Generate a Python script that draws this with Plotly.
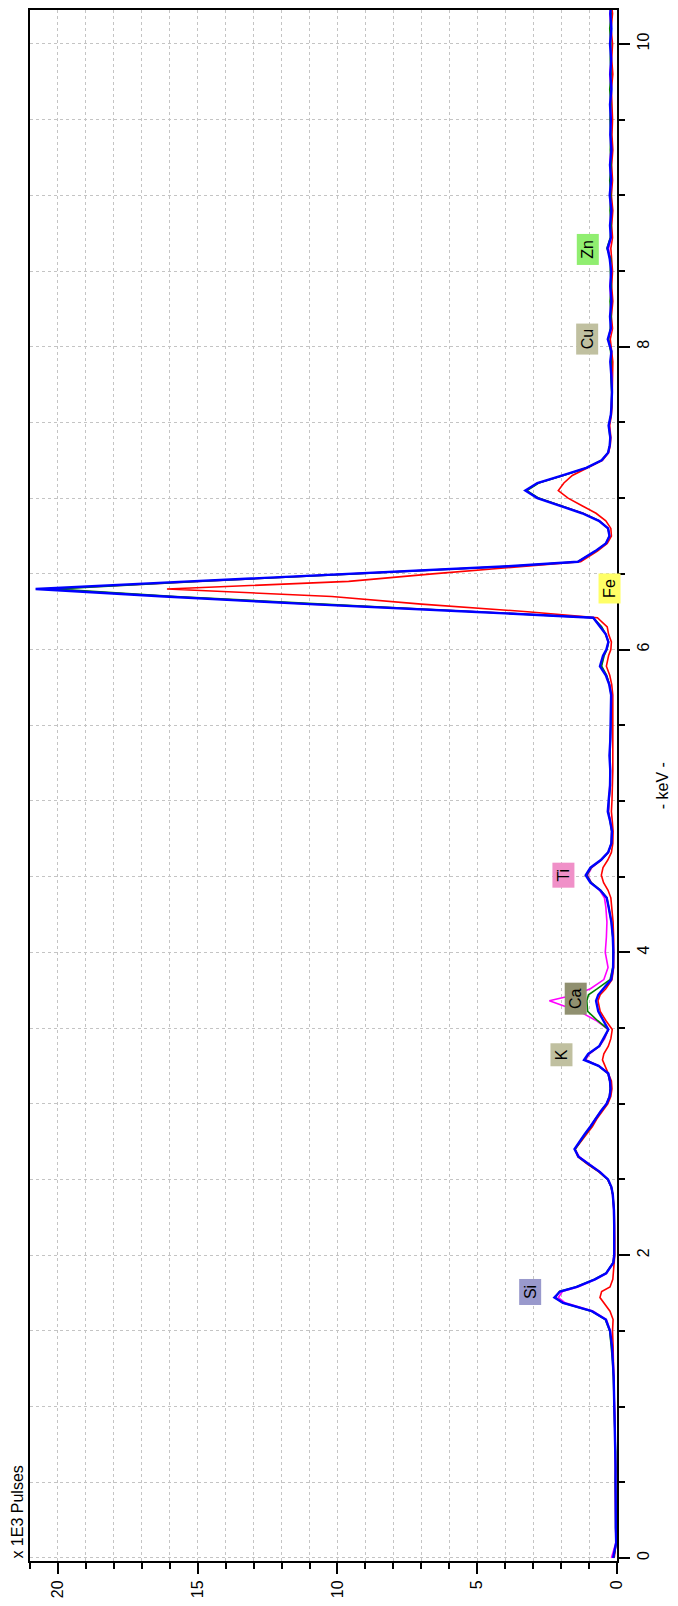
import plotly.graph_objects as go

# Energy channels (keV)
kev = [
    0.00, 0.05, 0.10, 0.20, 0.30, 0.40, 0.50, 0.60, 0.70, 0.80,
    0.90, 1.00, 1.10, 1.20, 1.30, 1.40, 1.50, 1.575, 1.63, 1.685,
    1.72, 1.76, 1.79, 1.84, 1.88, 1.95, 2.00, 2.10, 2.20, 2.30,
    2.40, 2.45, 2.50, 2.55, 2.60, 2.65, 2.70, 2.75, 2.80, 2.85,
    2.90, 2.95, 3.00, 3.05, 3.10, 3.15, 3.20, 3.25, 3.29, 3.33,
    3.38, 3.43, 3.49, 3.55, 3.61, 3.68, 3.72, 3.76, 3.82, 3.90,
    4.00, 4.10, 4.20, 4.30, 4.36, 4.41, 4.46, 4.51, 4.56, 4.61,
    4.66, 4.72, 4.80, 4.87, 4.93, 5.00, 5.10, 5.20, 5.30, 5.40,
    5.50, 5.60, 5.70, 5.77, 5.83, 5.89, 5.96, 6.00, 6.05, 6.10,
    6.15, 6.21, 6.25, 6.30, 6.35, 6.40, 6.45, 6.50, 6.55, 6.58,
    6.65, 6.70, 6.75, 6.80, 6.85, 6.90, 6.95, 7.00, 7.05, 7.10,
    7.15, 7.20, 7.25, 7.30, 7.35, 7.40, 7.48, 7.55, 7.60, 7.70,
    7.80, 7.90, 7.97, 8.05, 8.12, 8.20, 8.30, 8.40, 8.50, 8.58,
    8.65, 8.72, 8.80, 8.90, 9.00, 9.10, 9.20, 9.30, 9.40, 9.50,
    9.60, 9.70, 9.80, 9.90, 10.00, 10.10, 10.20, 10.25,
]

# Counts per channel, x 1E3 pulses
pulses_blue = [
    0.14, 0.08, 0.03, 0.04, 0.05, 0.04, 0.05, 0.05, 0.06, 0.07,
    0.08, 0.09, 0.10, 0.12, 0.15, 0.18, 0.25, 0.40, 0.90, 1.93,
    2.24, 2.04, 1.44, 0.79, 0.39, 0.13, 0.10, 0.09, 0.10, 0.11,
    0.15, 0.20, 0.32, 0.62, 1.00, 1.38, 1.52, 1.35, 1.15, 0.95,
    0.78, 0.58, 0.37, 0.26, 0.23, 0.25, 0.31, 0.66, 1.18, 1.03,
    0.64, 0.48, 0.31, 0.49, 0.67, 0.75, 0.67, 0.49, 0.21, 0.14,
    0.13, 0.15, 0.20, 0.30, 0.37, 0.60, 0.95, 1.12, 0.95, 0.58,
    0.32, 0.20, 0.18, 0.25, 0.33, 0.30, 0.25, 0.24, 0.27, 0.24,
    0.23, 0.22, 0.21, 0.28, 0.40, 0.61, 0.50, 0.38, 0.31, 0.40,
    0.60, 0.85, 5.20, 11.00, 16.20, 20.80, 15.30, 9.60, 3.90, 1.40,
    0.78, 0.40, 0.27, 0.32, 0.65, 1.25, 2.05, 2.85, 3.28, 2.85,
    1.95, 1.10, 0.55, 0.32, 0.26, 0.24, 0.30, 0.22, 0.20, 0.18,
    0.20, 0.24, 0.20, 0.33, 0.22, 0.25, 0.20, 0.24, 0.21, 0.26,
    0.34, 0.22, 0.25, 0.20, 0.26, 0.21, 0.25, 0.20, 0.24, 0.22,
    0.25, 0.20, 0.24, 0.21, 0.25, 0.20, 0.24, 0.22,
]

pulses_green = [
    0.12, 0.07, 0.03, 0.05, 0.04, 0.05, 0.06, 0.05, 0.05, 0.07,
    0.08, 0.10, 0.11, 0.13, 0.16, 0.20, 0.26, 0.42, 0.92, 1.95,
    2.20, 2.06, 1.48, 0.82, 0.40, 0.14, 0.10, 0.10, 0.10, 0.11,
    0.15, 0.21, 0.33, 0.63, 1.02, 1.38, 1.50, 1.33, 1.13, 0.93,
    0.77, 0.57, 0.37, 0.27, 0.24, 0.26, 0.32, 0.66, 1.15, 1.01,
    0.63, 0.47, 0.31, 0.70, 1.05, 1.08, 1.02, 0.70, 0.25, 0.15,
    0.14, 0.15, 0.20, 0.30, 0.36, 0.58, 0.92, 1.08, 0.92, 0.56,
    0.31, 0.20, 0.19, 0.25, 0.31, 0.29, 0.24, 0.25, 0.25, 0.24,
    0.22, 0.21, 0.21, 0.27, 0.37, 0.55, 0.46, 0.36, 0.30, 0.40,
    0.55, 0.85, 5.10, 10.80, 15.80, 20.05, 15.00, 9.40, 3.80, 1.40,
    0.76, 0.40, 0.27, 0.32, 0.63, 1.22, 2.00, 2.80, 3.22, 2.80,
    1.92, 1.08, 0.55, 0.32, 0.26, 0.25, 0.29, 0.22, 0.20, 0.19,
    0.22, 0.20, 0.23, 0.30, 0.24, 0.21, 0.25, 0.20, 0.24, 0.22,
    0.36, 0.24, 0.21, 0.25, 0.22, 0.26, 0.21, 0.24, 0.22, 0.25,
    0.22, 0.26, 0.21, 0.24, 0.22, 0.26, 0.21, 0.25,
]

pulses_magenta = [
    0.20, 0.12, 0.04, 0.05, 0.05, 0.05, 0.05, 0.06, 0.06, 0.06,
    0.07, 0.09, 0.10, 0.12, 0.14, 0.18, 0.24, 0.38, 0.85, 1.85,
    2.10, 1.95, 1.40, 0.76, 0.37, 0.14, 0.11, 0.10, 0.11, 0.12,
    0.16, 0.21, 0.32, 0.60, 0.98, 1.35, 1.50, 1.34, 1.14, 0.94,
    0.77, 0.58, 0.38, 0.27, 0.24, 0.26, 0.32, 0.64, 1.12, 0.98,
    0.62, 0.44, 0.31, 0.75, 1.35, 2.42, 1.50, 0.95, 0.47, 0.32,
    0.42, 0.38, 0.36, 0.40, 0.45, 0.62, 0.92, 1.05, 0.90, 0.55,
    0.30, 0.21, 0.19, 0.24, 0.30, 0.28, 0.25, 0.24, 0.26, 0.23,
    0.22, 0.21, 0.20, 0.27, 0.38, 0.57, 0.47, 0.37, 0.31, 0.41,
    0.57, 0.85, 5.00, 10.90, 16.00, 20.35, 15.10, 9.50, 3.80, 1.40,
    0.77, 0.40, 0.27, 0.31, 0.62, 1.20, 2.00, 2.82, 3.25, 2.82,
    1.93, 1.08, 0.54, 0.31, 0.25, 0.24, 0.28, 0.22, 0.21, 0.18,
    0.19, 0.23, 0.21, 0.31, 0.20, 0.24, 0.22, 0.25, 0.20, 0.24,
    0.30, 0.21, 0.24, 0.22, 0.25, 0.20, 0.26, 0.22, 0.23, 0.21,
    0.24, 0.21, 0.26, 0.20, 0.24, 0.22, 0.25, 0.21,
]

pulses_red = [
    0.10, 0.06, 0.03, 0.04, 0.05, 0.04, 0.06, 0.05, 0.06, 0.06,
    0.07, 0.08, 0.09, 0.10, 0.12, 0.14, 0.16, 0.14, 0.25, 0.49,
    0.61, 0.55, 0.25, 0.15, 0.13, 0.09, 0.08, 0.08, 0.09, 0.10,
    0.15, 0.20, 0.34, 0.65, 1.05, 1.40, 1.50, 1.30, 1.10, 0.88,
    0.72, 0.52, 0.33, 0.22, 0.18, 0.20, 0.32, 0.44, 0.52, 0.47,
    0.31, 0.22, 0.17, 0.40, 0.60, 0.68, 0.60, 0.40, 0.18, 0.12,
    0.11, 0.12, 0.14, 0.18, 0.22, 0.32, 0.48, 0.56, 0.50, 0.33,
    0.20, 0.15, 0.14, 0.17, 0.20, 0.18, 0.16, 0.15, 0.15, 0.15,
    0.15, 0.15, 0.15, 0.19, 0.26, 0.38, 0.30, 0.22, 0.20, 0.30,
    0.35, 0.70, 3.20, 7.00, 10.20, 16.10, 9.60, 6.60, 3.10, 1.30,
    0.70, 0.35, 0.20, 0.22, 0.40, 0.75, 1.25, 1.75, 2.10, 1.90,
    1.60, 1.05, 0.52, 0.30, 0.24, 0.22, 0.26, 0.20, 0.18, 0.17,
    0.17, 0.15, 0.19, 0.24, 0.16, 0.20, 0.15, 0.19, 0.16, 0.18,
    0.22, 0.16, 0.19, 0.15, 0.20, 0.16, 0.19, 0.15, 0.18, 0.16,
    0.17, 0.20, 0.15, 0.19, 0.16, 0.21, 0.16, 0.19,
]

# Element line markers
elem_names = ["Si", "K", "Ca", "Ti", "Fe", "Cu", "Zn"]
elem_kev = [1.754, 3.326, 3.692, 4.51, 6.40, 8.053, 8.645]
elem_pulses = [3.11, 1.99, 1.46, 1.93, 0.25, 1.06, 1.06]
elem_colors = ["#9999cc", "#c0c0a0", "#909070", "#f090c8", "#ffff66", "#c0c0a0", "#90ee70"]
elem_box_len = [25, 22, 31, 24, 29, 30, 30]

FONT = "Liberation Sans, Arial, sans-serif"
GRID = "#c4c4c4"

fig = go.Figure()
series = [
    (pulses_red, "#ff0000", 1.6),
    (pulses_magenta, "#ff00ff", 1.6),
    (pulses_green, "#008000", 1.6),
    (pulses_blue, "#0000ff", 2.4),
]
for vals, color, lw in series:
    fig.add_trace(go.Scatter(
        x=vals, y=kev, mode="lines",
        line=dict(color=color, width=lw),
        hoverinfo="skip",
    ))

for name, e, p, c, bl in zip(elem_names, elem_kev, elem_pulses, elem_colors, elem_box_len):
    fig.add_annotation(
        x=p, y=e, xref="x", yref="y", text=name, showarrow=False,
        textangle=-90, bgcolor=c, borderpad=0, width=bl, height=21,
        font=dict(family=FONT, size=16, color="black"),
    )

fig.add_annotation(
    x=1.078, y=0.5, xref="paper", yref="paper", text="- keV -",
    showarrow=False, textangle=-90, xanchor="center", yanchor="middle",
    font=dict(family=FONT, size=16, color="black"),
)
fig.add_annotation(
    x=-0.022, y=0.0, xref="paper", yref="paper", text="x 1E3 Pulses",
    showarrow=False, textangle=-90, xanchor="center", yanchor="bottom",
    font=dict(family=FONT, size=16, color="black"),
)

axis_common = dict(
    ticks="outside", ticklen=11, tickwidth=1.5, tickcolor="black",
    tickangle=-90, tickfont=dict(family=FONT, size=16, color="black"),
    showline=True, linecolor="black", linewidth=2, mirror=True,
    showgrid=True, gridcolor=GRID, gridwidth=1, griddash="dot",
    zeroline=False,
)

fig.update_xaxes(
    range=[21.0, 0.0], tick0=0, dtick=5,
    minor=dict(dtick=1, ticks="outside", ticklen=6, tickwidth=1.5,
               tickcolor="black", showgrid=True, gridcolor=GRID,
               griddash="dot", gridwidth=1),
    **axis_common,
)
fig.update_yaxes(
    range=[-0.02, 10.224], side="right", tick0=0, dtick=2,
    minor=dict(dtick=0.5, ticks="outside", ticklen=6, tickwidth=1.5,
               tickcolor="black", showgrid=True, gridcolor=GRID,
               griddash="dot", gridwidth=1),
    **axis_common,
)

fig.update_layout(
    width=678, height=1606,
    margin=dict(l=30, r=61, t=8, b=40),
    plot_bgcolor="white", paper_bgcolor="white",
    showlegend=False,
    font=dict(family=FONT, size=16, color="black"),
)

fig.write_html("out.html")
